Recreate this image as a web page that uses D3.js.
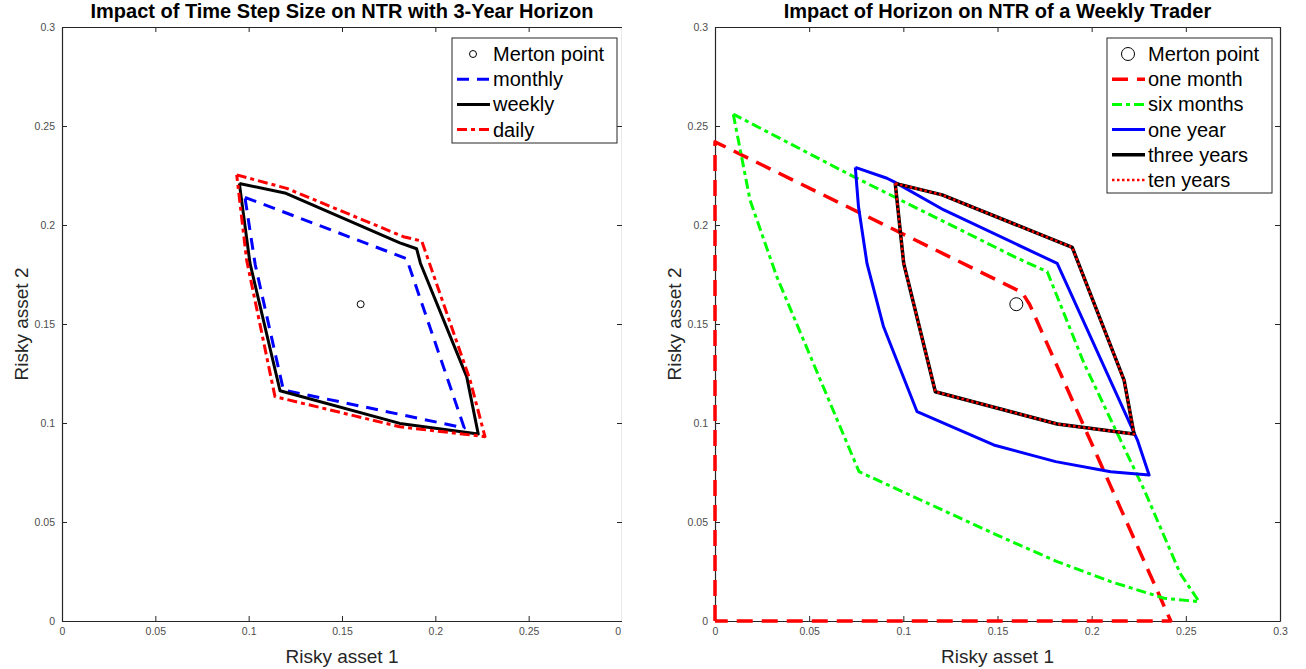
<!DOCTYPE html>
<html>
<head>
<meta charset="utf-8">
<script src="https://cdn.jsdelivr.net/npm/d3@7"></script>
<style>
body { margin: 0; background: #fff; }
text { font-family: "Liberation Sans", Arial, sans-serif; }
</style>
</head>
<body>
<svg width="1306" height="669"></svg>
<script>
// data
var tickValues = [0, 0.05, 0.1, 0.15, 0.2, 0.25, 0.3];
var merton = [0.16, 0.16];

// left: 3-year horizon, different time steps
var monthly = [[0.098, 0.214], [0.1846, 0.183], [0.2155, 0.0975], [0.2105, 0.0985], [0.1186, 0.1167], [0.1035, 0.180], [0.098, 0.214]];
var weekly = [[0.095, 0.221], [0.120, 0.216], [0.181, 0.191], [0.190, 0.188], [0.192, 0.1807], [0.2168, 0.1234], [0.223, 0.0944], [0.181, 0.0998], [0.1168, 0.1163], [0.1007, 0.1807], [0.095, 0.221]];
var daily = [[0.0936, 0.2253], [0.1204, 0.2185], [0.1829, 0.1941], [0.1927, 0.1919], [0.2186, 0.1217], [0.2266, 0.0931], [0.181, 0.0981], [0.1141, 0.1133], [0.0989, 0.1823], [0.0936, 0.2253]];

// right: weekly trader, different horizons
var oneMonth = [[0, 0], [0, 0.242], [0.163, 0.166], [0.167, 0.160], [0.242, 0], [0, 0]];
var sixMonths = [[0.0097, 0.256], [0.0186, 0.2126], [0.0328, 0.1739], [0.0765, 0.0754], [0.1516, 0.0426], [0.1817, 0.030], [0.2101, 0.0199], [0.2385, 0.0115], [0.257, 0.0098], [0.247, 0.024], [0.228, 0.066], [0.196, 0.130], [0.1764, 0.1764], [0.160, 0.1835], [0.0736, 0.2244], [0.0097, 0.256]];
var oneYear = [[0.0745, 0.2291], [0.0913, 0.2236], [0.0949, 0.2219], [0.1215, 0.2076], [0.1817, 0.1806], [0.2243, 0.0914], [0.2305, 0.0737], [0.2101, 0.0754], [0.1809, 0.0805], [0.148, 0.0889], [0.1073, 0.1057], [0.0895, 0.1486], [0.0807, 0.1806], [0.0762, 0.2092], [0.0745, 0.2291]];
var threeYears = [[0.0957, 0.2210], [0.1206, 0.2152], [0.1897, 0.1887], [0.1933, 0.1798], [0.2172, 0.1217], [0.2225, 0.0944], [0.1817, 0.0995], [0.1170, 0.1158], [0.1002, 0.1806], [0.0957, 0.2210]];
var tenYears = [[0.0957, 0.2210], [0.1206, 0.2152], [0.1897, 0.1887], [0.1933, 0.1798], [0.2172, 0.1217], [0.2225, 0.0944], [0.1817, 0.0995], [0.1170, 0.1158], [0.1002, 0.1806], [0.0957, 0.2210]];

var svg = d3.select('svg');
var fmt = function(d) { return String(+d.toFixed(2)); };

function panel(o) {
    var g = svg.append('g');
    if (o.clip) {
        svg.append('clipPath').attr('id', o.id + 'clip')
            .append('rect').attr('x', 0).attr('y', 0).attr('width', o.clip).attr('height', 669);
        g.attr('clip-path', 'url(#' + o.id + 'clip)');
    }
    var x = d3.scaleLinear().domain([0, 0.3]).range([o.left, o.right]);
    var y = d3.scaleLinear().domain([0, 0.3]).range([621, 27]);

    // box + inward ticks
    var axes = [
        [d3.axisBottom(x), 'translate(0,621)', true],
        [d3.axisLeft(y), 'translate(' + o.left + ',0)', true],
        [d3.axisTop(x), 'translate(0,27)', false],
        [d3.axisRight(y), 'translate(' + o.right + ',0)', false]
    ];
    axes.forEach(function(a) {
        var ax = a[0].tickValues(tickValues).tickSizeInner(-5).tickSizeOuter(0).tickPadding(a[2] ? 7 : 0);
        ax.tickFormat(a[2] ? fmt : '');
        var s = g.append('g').attr('transform', a[1]).call(ax);
        s.select('.domain').attr('stroke', '#262626').attr('stroke-width', 1.2);
        s.selectAll('.tick line').attr('stroke', '#262626');
        s.selectAll('.tick text').attr('fill', '#4d4d4d').style('font-size', '10.5px');
    });

    var line = d3.line().x(function(d) { return x(d[0]); }).y(function(d) { return y(d[1]); });
    o.series.forEach(function(s) {
        g.append('path').datum(s.data).attr('d', line)
            .attr('fill', 'none').attr('stroke', s.color).attr('stroke-width', s.width)
            .attr('stroke-dasharray', s.dash).attr('stroke-linejoin', 'round');
    });
    g.append('circle').attr('cx', x(merton[0])).attr('cy', y(merton[1])).attr('r', o.mr)
        .attr('fill', 'none').attr('stroke', '#000').attr('stroke-width', 1);

    // titles and labels
    var cx = (o.left + o.right) / 2;
    svg.append('text').attr('x', cx).attr('y', 18).attr('text-anchor', 'middle')
        .style('font-size', '20px').style('font-weight', 'bold').text(o.title);
    svg.append('text').attr('x', cx).attr('y', 663).attr('text-anchor', 'middle')
        .attr('fill', '#262626').style('font-size', '19px').text('Risky asset 1');
    svg.append('text').attr('transform', 'translate(' + (o.left - 34) + ',324) rotate(-90)')
        .attr('text-anchor', 'middle').attr('fill', '#262626').style('font-size', '19px').text('Risky asset 2');

    // legend
    var L = o.legend;
    var lg = svg.append('g');
    lg.append('rect').attr('x', L.x).attr('y', 38).attr('width', L.w).attr('height', L.h)
        .attr('fill', '#fff').attr('stroke', '#262626').attr('stroke-width', 1);
    var rows = [{ label: 'Merton point', marker: true }].concat(o.series.filter(function(s) { return s.label; }));
    rows.forEach(function(r, i) {
        var yy = 54 + i * 25.2;
        if (r.marker) {
            lg.append('circle').attr('cx', L.x + 21).attr('cy', yy).attr('r', o.mr)
                .attr('fill', 'none').attr('stroke', '#000');
        } else {
            lg.append('line').attr('x1', L.x + 5).attr('x2', L.x + 38).attr('y1', yy).attr('y2', yy)
                .attr('stroke', r.color).attr('stroke-width', r.width).attr('stroke-dasharray', r.dash);
        }
        lg.append('text').attr('x', L.x + 41).attr('y', yy + 7).style('font-size', '20px').text(r.label);
    });
}

panel({
    id: 'left', left: 62, right: 622, clip: 622, mr: 3.5,
    title: 'Impact of Time Step Size on NTR with 3-Year Horizon',
    legend: { x: 452, w: 165, h: 105 },
    series: [
        { data: monthly, color: '#0000ff', width: 3, dash: '12,8', label: 'monthly' },
        { data: weekly, color: '#000', width: 3, dash: null, label: 'weekly' },
        { data: daily, color: '#ff0000', width: 3, dash: '10,4,4,4', label: 'daily' }
    ]
});

panel({
    id: 'right', left: 715, right: 1280, clip: null, mr: 6.5,
    title: 'Impact of Horizon on NTR of a Weekly Trader',
    legend: { x: 1107, w: 165, h: 155 },
    series: [
        { data: oneMonth, color: '#ff0000', width: 3.5, dash: '16,9', label: 'one month' },
        { data: sixMonths, color: '#00ff00', width: 3, dash: '10,4,4,4', label: 'six months' },
        { data: oneYear, color: '#0000ff', width: 3, dash: null, label: 'one year' },
        { data: threeYears, color: '#000', width: 3.5, dash: null, label: 'three years' },
        { data: tenYears, color: '#ff0000', width: 2.5, dash: '2.5,2.5', label: 'ten years' }
    ]
});
</script>
</body>
</html>
